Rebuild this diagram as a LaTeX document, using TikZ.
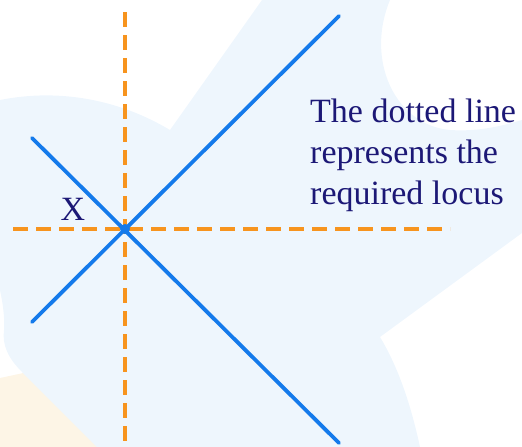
\documentclass[tikz,border=0pt]{standalone}
\usepackage{fontspec}
\setmainfont{Liberation Serif}
\usepackage{xcolor}
\usepackage{tikz}
\usetikzlibrary{positioning, calc}

\definecolor{blobblue}{RGB}{238,246,253}
\definecolor{blobpeach}{RGB}{253,245,230}
\definecolor{lineblue}{RGB}{20,122,235}
\definecolor{guideorange}{RGB}{247,148,30}
\definecolor{textnavy}{RGB}{28,24,118}

\begin{document}
\begin{tikzpicture}[x=1pt, y=-1pt,
    locusline/.style={line width=3.8pt, lineblue, line cap=round},
    guideline/.style={line width=3.4pt, guideorange, dash pattern=on 15pt off 8pt},
    labeltext/.style={font=\fontsize{34}{41}\selectfont, text=textnavy, inner sep=0pt},
]
\useasboundingbox (0,0) rectangle (522,447);

% background shapes
\fill[blobpeach] (0,378) -- (28,372) -- (120,447) -- (0,447) -- cycle;
\fill[blobblue] (0,100) .. controls (60,88) and (120,100) .. (170,130)
    -- (262,0) -- (390,0)
    .. controls (365,60) and (395,125) .. (450,130)
    .. controls (480,132) and (505,125) .. (522,120)
    -- (522,233) -- (380,337)
    .. controls (400,370) and (412,410) .. (420,447)
    -- (97,447) -- (22,372)
    .. controls (8,358) and (2,345) .. (4,330)
    .. controls (5,315) and (2,300) .. (0,290) -- cycle;

% guides and locus lines
\coordinate (vtop) at (125,12);
\coordinate (vbot) at (125,447);
\coordinate (hleft) at (13,229);
\coordinate (hright) at (450,229);
\coordinate (aup) at (32,138);
\coordinate (adown) at (339,443);
\coordinate (bdown) at (32,322);
\coordinate (bup) at (339,16);

\draw[guideline] (vtop) -- (vbot);
\draw[guideline] (hleft) -- (hright);
\draw[locusline] (aup) -- (adown);
\draw[locusline] (bdown) -- (bup);

\node[circle, fill=lineblue, inner sep=0pt, minimum size=10pt] (x) at (125,229) {};

\node[labeltext, anchor=base] (xlabel) at (73,220) {X};
\node[labeltext, anchor=north west, align=left] (note) at (310,99)
    {The dotted line\\represents the\\required locus};

\end{tikzpicture}
\end{document}
